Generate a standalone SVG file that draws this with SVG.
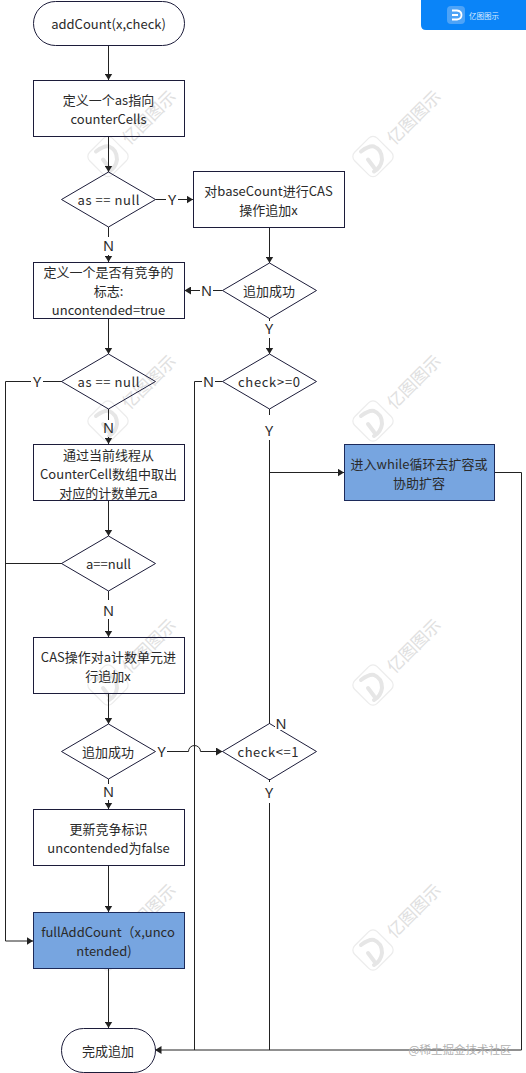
<svg xmlns="http://www.w3.org/2000/svg" width="526" height="1073" viewBox="0 0 526 1073">
<style>
.s{fill:none;stroke:#1c1c3a;stroke-width:1}
.b{fill:#77a5e0;stroke:#1c2a5a;stroke-width:1}
.t{font:13px "Noto Sans CJK SC","Noto Sans",sans-serif;fill:#2a2a2a;text-anchor:middle}
.l{font:14.500px "Noto Sans","Noto Sans CJK SC",sans-serif;fill:#2a2a2a;text-anchor:middle}
.c{fill:none;stroke:#222;stroke-width:1}
.wm{fill:none;stroke:#ececec;stroke-width:1.200}
.wi{fill:none;stroke:#e6e6e6;stroke-width:4;stroke-linecap:round}
.wt{font:400 17px "Noto Sans CJK SC",sans-serif;fill:#e0e0e0;text-anchor:middle}
</style>
<defs>
<marker id="a" markerUnits="userSpaceOnUse" markerWidth="7" markerHeight="8" refX="6.500" refY="4" orient="auto"><path d="M0 0L6.500 4L0 8Z" fill="#222"/></marker>
<g id="w">
<rect x="-16" y="-16" width="32" height="32" rx="6" transform="rotate(45)" class="wm"/>
<path d="M-12 -5Q-4 -11 1 -10Q9 -7 9 3Q8 11 1 15M-5 3L1 11" class="wi"/>
<text x="41" y="-33" class="wt" transform="rotate(-45 41 -39)">亿图图示</text>
</g>
</defs>
<g id="watermarks">
<use href="#w" x="108" y="156.500"/><use href="#w" x="373" y="156.500"/>
<use href="#w" x="108" y="421"/><use href="#w" x="373" y="421"/>
<use href="#w" x="108" y="685"/><use href="#w" x="373" y="685"/>
<use href="#w" x="108" y="950"/><use href="#w" x="373" y="950"/>
</g>
<g id="connectors">
<path class="c" marker-end="url(#a)" d="M108.500 45V80"/>
<path class="c" marker-end="url(#a)" d="M108.500 136V172"/>
<path class="c" d="M155.500 199.500H166"/><path class="c" marker-end="url(#a)" d="M178 199.500H193"/>
<path class="c" d="M108.500 227V237"/><path class="c" marker-end="url(#a)" d="M108.500 255V262"/>
<path class="c" marker-end="url(#a)" d="M269.500 227V263"/>
<path class="c" d="M222.500 290.500H213"/><path class="c" marker-end="url(#a)" d="M200 290.500H184.500"/>
<path class="c" d="M269.500 318V321"/><path class="c" marker-end="url(#a)" d="M269.500 338V354"/>
<path class="c" marker-end="url(#a)" d="M108.500 318V354"/>
<path class="c" d="M62 381.500H43"/><path class="c" marker-end="url(#a)" d="M31 381.500H5.500V941H33"/>
<path class="c" d="M108.500 409V420"/><path class="c" marker-end="url(#a)" d="M108.500 437V444"/>
<path class="c" marker-end="url(#a)" d="M108.500 500V536"/>
<path class="c" d="M62 563.500H5.500"/>
<path class="c" d="M108.500 591V600"/><path class="c" marker-end="url(#a)" d="M108.500 619V637"/>
<path class="c" marker-end="url(#a)" d="M108.500 693V724"/>
<path class="c" marker-end="url(#a)" d="M167 751.500H188.500A6 6 0 0 1 200.500 751.500H222.500"/>
<path class="c" d="M108.500 779V784"/><path class="c" marker-end="url(#a)" d="M108.500 800V809"/>
<path class="c" marker-end="url(#a)" d="M108.500 865V912"/>
<path class="c" marker-end="url(#a)" d="M108.500 968V1028"/>
<path class="c" d="M222.500 381.500H215"/><path class="c" d="M202 381.500H194.500V1050"/>
<path class="c" d="M269.500 409V415"/><path class="c" d="M269.500 440V724"/>
<path class="c" marker-end="url(#a)" d="M269.500 472.500H344"/>
<path class="c" d="M269.500 779V782"/><path class="c" d="M269.500 803V1050"/>
<path class="c" marker-end="url(#a)" d="M495 472.500H521.500V1050H155"/>
</g>
<g id="start"><rect class="s" x="33.500" y="1.500" width="151" height="44" rx="22"/><text class="t" x="108.500" y="29">addCount(x,check)</text></g>
<g id="define-as"><rect class="s" x="33.500" y="80.500" width="151" height="56"/><text class="t" x="108.500" y="105">定义一个as指向</text><text class="t" x="108.500" y="124">counterCells</text></g>
<g id="as-null-1"><path class="s" d="M108.500 172L155.500 199.500L108.500 227L61.500 199.500Z"/><text class="t" x="108.500" y="205" textLength="62">as == null</text></g>
<g id="cas-base"><rect class="s" x="193.500" y="171.500" width="151" height="56"/><text class="t" x="268.500" y="196">对baseCount进行CAS</text><text class="t" x="268.500" y="215">操作追加x</text></g>
<g id="success-1"><path class="s" d="M269.500 263L316.500 290.500L269.500 318.500L222.500 290.500Z"/><text class="t" x="269" y="296">追加成功</text></g>
<g id="define-flag"><rect class="s" x="33.500" y="262.500" width="151" height="56"/><text class="t" x="108.500" y="277">定义一个是否有竞争的</text><text class="t" x="108.500" y="296">标志:</text><text class="t" x="108.500" y="315">uncontended=true</text></g>
<g id="as-null-2"><path class="s" d="M108.500 354L155.500 381.500L108.500 409L61.500 381.500Z"/><text class="t" x="108.500" y="387" textLength="62">as == null</text></g>
<g id="check-ge"><path class="s" d="M269.500 354L316.500 381.500L269.500 409L222.500 381.500Z"/><text class="t" x="269" y="387" textLength="62">check&gt;=0</text></g>
<g id="get-cell"><rect class="s" x="33.500" y="444.500" width="151" height="56"/><text class="t" x="108.500" y="460">通过当前线程从</text><text class="t" x="108.500" y="479">CounterCell数组中取出</text><text class="t" x="108.500" y="498">对应的计数单元a</text></g>
<g id="resize"><rect class="b" x="344.500" y="444.500" width="150" height="56"/><text class="t" x="419" y="469">进入while循环去扩容或</text><text class="t" x="419" y="488">协助扩容</text></g>
<g id="a-null"><path class="s" d="M108.500 536L155.500 563.500L108.500 591L61.500 563.500Z"/><text class="t" x="108.500" y="569">a==null</text></g>
<g id="cas-cell"><rect class="s" x="33.500" y="637.500" width="151" height="56"/><text class="t" x="108.500" y="662">CAS操作对a计数单元进</text><text class="t" x="108" y="681">行追加x</text></g>
<g id="success-2"><path class="s" d="M108.500 724L155.500 751.500L108.500 779L61.500 751.500Z"/><text class="t" x="108" y="757">追加成功</text></g>
<g id="check-le"><path class="s" d="M269.500 723.500L316.500 751.500L269.500 780L222.500 751.500Z"/><text class="t" x="268" y="757" textLength="61">check&lt;=1</text></g>
<g id="update-flag"><rect class="s" x="33.500" y="809.500" width="151" height="56"/><text class="t" x="108.500" y="834">更新竞争标识</text><text class="t" x="108.500" y="853">uncontended为false</text></g>
<g id="full-add"><rect class="b" x="33.500" y="912.500" width="151" height="56"/><text class="t" x="108" y="937">fullAddCount（x,unco</text><text class="t" x="104" y="956">ntended)</text></g>
<g id="end"><rect class="s" x="61.500" y="1028.500" width="94" height="44" rx="22"/><text class="t" x="108" y="1056">完成追加</text></g>
<g id="connector-labels">
<rect x="275" y="718" width="12" height="12" fill="#fff"/>
<text class="l" x="172" y="205">Y</text>
<text class="l" x="108.500" y="251">N</text>
<text class="l" x="206.500" y="296">N</text>
<text class="l" x="269" y="334">Y</text>
<text class="l" x="37" y="387">Y</text>
<text class="l" x="108.500" y="433">N</text>
<text class="l" x="208.500" y="387">N</text>
<text class="l" x="269" y="436">Y</text>
<text class="l" x="108.500" y="616">N</text>
<text class="l" x="161.500" y="757">Y</text>
<text class="l" x="108.500" y="797">N</text>
<text class="l" x="281" y="729">N</text>
<text class="l" x="269" y="798">Y</text>
</g>
<g id="brand">
<path d="M421 0H526V30H426Q421 30 421 25Z" fill="#0a84f8"/>
<rect x="447" y="6" width="18" height="18" rx="4" fill="#4da3f7"/>
<path d="M452 10.500H457Q461.500 11 461.500 15Q461.500 19 457 19.500H452M452 15H458" fill="none" stroke="#fff" stroke-width="1.800"/>
<text x="484" y="18.500" font-family="Noto Sans CJK SC, sans-serif" font-size="7.500" fill="#dcecff" text-anchor="middle">亿图图示</text>
</g>
<text id="credit" x="460" y="1054" font-family="Noto Sans CJK SC, sans-serif" font-size="11.500" fill="#b0b0b0" text-anchor="middle">@稀土掘金技术社区</text>
</svg>
